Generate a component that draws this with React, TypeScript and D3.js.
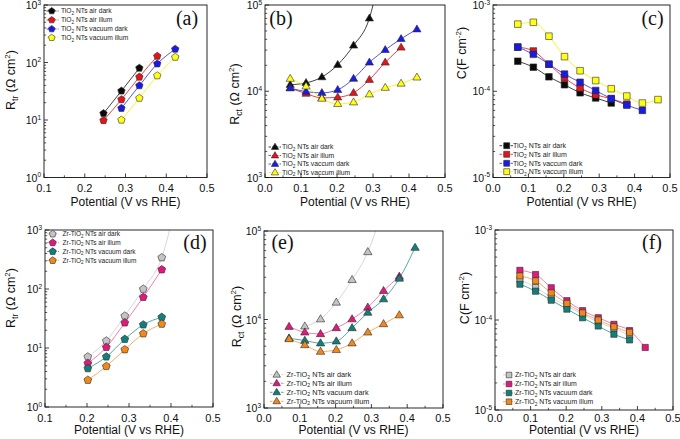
import React from 'react';
import * as d3 from 'd3';

// ---------- DATA ----------
// Panel (a): R_tr, TiO2 NTs
const aAirDarkX = [0.246, 0.29, 0.334];
const aAirDarkY = [13, 32, 80];
const aAirIllumX = [0.246, 0.29, 0.334, 0.378];
const aAirIllumY = [9.8, 22.7, 56, 129];
const aVacDarkX = [0.29, 0.334, 0.378, 0.422];
const aVacDarkY = [16, 39.6, 95, 171];
const aVacIllumX = [0.29, 0.334, 0.378, 0.422];
const aVacIllumY = [10, 24, 59, 124];

// Panel (b): R_ct, TiO2 NTs
const bAirDarkX = [0.07, 0.114, 0.158, 0.202, 0.246, 0.29, 0.334];
const bAirDarkY = [11900, 12500, 14600, 20300, 34000, 70200, 500000];
const bAirIllumX = [0.07, 0.114, 0.158, 0.202, 0.246, 0.29, 0.334, 0.378];
const bAirIllumY = [10900, 9400, 8370, 8530, 9570, 13600, 21600, 32200];
const bVacDarkX = [0.07, 0.114, 0.158, 0.202, 0.246, 0.29, 0.334, 0.378, 0.422];
const bVacDarkY = [10900, 9900, 9570, 10400, 14000, 21600, 30200, 40500, 52400];
const bVacIllumX = [0.07, 0.114, 0.158, 0.202, 0.246, 0.29, 0.334, 0.378, 0.422];
const bVacIllumY = [14000, 11400, 8230, 7140, 7460, 9230, 11000, 12300, 14500];

// Panel (c): C, TiO2 NTs
const cAirDarkX = [0.07, 0.114, 0.158, 0.202, 0.246, 0.29, 0.334];
const cAirDarkY = [2.23e-4, 1.9e-4, 1.47e-4, 1.19e-4, 9.6e-5, 8.36e-5, 7.3e-5];
const cAirIllumX = [0.07, 0.114, 0.158, 0.202, 0.246, 0.29, 0.334, 0.378];
const cAirIllumY = [3.25e-4, 2.93e-4, 2.06e-4, 1.43e-4, 1.09e-4, 9.1e-5, 8.2e-5, 7.1e-5];
const cVacDarkX = [0.07, 0.114, 0.158, 0.202, 0.246, 0.29, 0.334, 0.378, 0.422];
const cVacDarkY = [3.25e-4, 2.68e-4, 2.06e-4, 1.58e-4, 1.27e-4, 1.02e-4, 8.2e-5, 6.9e-5, 6.0e-5];
const cVacIllumX = [0.07, 0.114, 0.158, 0.202, 0.246, 0.29, 0.334, 0.378, 0.422, 0.466];
const cVacIllumY = [6.0e-4, 6.3e-4, 4.35e-4, 2.52e-4, 1.73e-4, 1.33e-4, 1.07e-4, 8.8e-5, 7.3e-5, 8.0e-5];

// Panel (d): R_tr, Zr-TiO2 NTs
const dAirDarkX = [0.202, 0.246, 0.29, 0.334, 0.378, 0.422];
const dAirDarkY = [7.1, 13.2, 35, 100, 341, 6500];
const dAirIllumX = [0.202, 0.246, 0.29, 0.334, 0.378];
const dAirIllumY = [5.5, 10.3, 26.8, 72.6, 213];
const dVacDarkX = [0.202, 0.246, 0.29, 0.334, 0.378];
const dVacDarkY = [4.5, 7.1, 14.1, 24.8, 33.3];
const dVacIllumX = [0.202, 0.246, 0.29, 0.334, 0.378];
const dVacIllumY = [2.86, 4.9, 9.4, 17.5, 25.5];

// Panel (e): R_ct, Zr-TiO2 NTs
const eAirDarkX = [0.114, 0.158, 0.202, 0.246, 0.29, 0.334];
const eAirDarkY = [8380, 10100, 15600, 28100, 58000, 190000];
const eAirIllumX = [0.07, 0.114, 0.158, 0.202, 0.246, 0.29, 0.334, 0.378];
const eAirIllumY = [8300, 7170, 6870, 8020, 10100, 13700, 21100, 30600];
const eVacDarkX = [0.07, 0.114, 0.158, 0.202, 0.246, 0.29, 0.334, 0.378, 0.422];
const eVacDarkY = [6140, 5780, 5400, 5680, 8020, 12000, 17000, 29100, 64900];
const eVacIllumX = [0.07, 0.114, 0.158, 0.202, 0.246, 0.29, 0.334, 0.378];
const eVacIllumY = [6030, 5160, 4340, 4540, 5400, 7170, 8900, 11200];

// Panel (f): C, Zr-TiO2 NTs
const fAirDarkX = [0.07, 0.114, 0.158, 0.202, 0.246, 0.29, 0.334, 0.378];
const fAirDarkY = [2.81e-4, 2.3e-4, 1.78e-4, 1.43e-4, 1.16e-4, 9.5e-5, 8.09e-5, 6.71e-5];
const fAirIllumX = [0.07, 0.114, 0.158, 0.202, 0.246, 0.29, 0.334, 0.378, 0.422];
const fAirIllumY = [3.56e-4, 3.2e-4, 2.28e-4, 1.64e-4, 1.27e-4, 1.06e-4, 8.95e-5, 7.62e-5, 4.95e-5];
const fVacDarkX = [0.07, 0.114, 0.158, 0.202, 0.246, 0.29, 0.334, 0.378];
const fVacDarkY = [2.5e-4, 2.09e-4, 1.66e-4, 1.32e-4, 1.06e-4, 8.58e-5, 6.95e-5, 6.01e-5];
const fVacIllumX = [0.07, 0.114, 0.158, 0.202, 0.246, 0.29, 0.334, 0.378];
const fVacIllumY = [3.09e-4, 2.72e-4, 2.0e-4, 1.53e-4, 1.2e-4, 1.0e-4, 8.4e-5, 7.3e-5];

// Tick values
const xTicksFrom01 = [0.1, 0.2, 0.3, 0.4, 0.5];
const xTicksFrom00 = [0.0, 0.1, 0.2, 0.3, 0.4, 0.5];
const yExpR = [0, 1, 2, 3];
const yExpRct = [3, 4, 5];
const yExpC = [-5, -4, -3];
const xTitle = 'Potential (V vs RHE)';

// Legend labels
const tioLabelsA = ['air dark', 'air illum', 'vacuum dark', 'vacuum illum'];
const tioLabelsBC = ['air dark', 'air illum', 'vaccum dark', 'vaccum illum'];
const zrLabelsD = ['air dark', 'air illum', 'vacuum dark', 'vacuum illum'];
const zrLabelsEF = [' air dark', 'air illum', 'vacuum dark', 'vacuum illum'];

// ---------- STYLE ----------
const FONT = 'Liberation Sans, Arial, Helvetica, sans-serif';
const SERIF = 'Liberation Serif, Times New Roman, serif';
const tioColors = [
  { fill: '#0a0a0a', line: '#111111' },
  { fill: '#e3141b', line: '#e3141b' },
  { fill: '#1a1ae6', line: '#2a2ae6' },
  { fill: '#ffff14', line: '#f2f200' },
];
const zrColors = [
  { fill: '#c4c4c4', line: '#cdcdcd' },
  { fill: '#e2187c', line: '#ec5fa0' },
  { fill: '#12807a', line: '#2a938d' },
  { fill: '#f0881c', line: '#f39a3a' },
];

type Shape = 'pent' | 'tri' | 'sq';

function markerPath(shape: Shape, r: number): string {
  if (shape === 'pent') {
    const pts = d3.range(5).map((k) => {
      const a = -Math.PI / 2 + (k * 2 * Math.PI) / 5;
      return [r * Math.cos(a), r * Math.sin(a)];
    });
    return 'M' + pts.map((p) => p[0].toFixed(2) + ',' + p[1].toFixed(2)).join('L') + 'Z';
  }
  if (shape === 'tri') {
    return `M0,${-r}L${(r * 0.95).toFixed(2)},${(r * 0.62).toFixed(2)}L${(-r * 0.95).toFixed(2)},${(r * 0.62).toFixed(2)}Z`;
  }
  return `M${-r},${-r}H${r}V${r}H${-r}Z`;
}

interface Series { x: number[]; y: number[]; fill: string; line: string; label: string }
interface PanelCfg {
  id: string;
  left: number; right: number; top: number; bottom: number;
  tickY: number; titleY: number;
  xDomain: [number, number];
  xTicks: number[];
  yExp: number[];
  yLabel: 'Rtr' | 'Rct' | 'C';
  yLabelX: number; yLabelY: number;
  letter: string; letterX: number; letterY: number;
  shape: Shape; r: number;
  prefix: string;
  legend: { mx: number; lx0: number; lx1: number; tx: number; ys: number[]; fs: number };
  series: Series[];
}

function mk(xs: number[][], ys: number[][], colors: { fill: string; line: string }[], labels: string[]): Series[] {
  return xs.map((x, i) => ({ x, y: ys[i], fill: colors[i].fill, line: colors[i].line, label: labels[i] }));
}

const panels: PanelCfg[] = [
  {
    id: 'a', left: 44, right: 207, top: 5, bottom: 177.5, tickY: 192, titleY: 205.5,
    xDomain: [0.1, 0.5], xTicks: xTicksFrom01, yExp: yExpR, yLabel: 'Rtr',
    yLabelX: 14.5, yLabelY: 80, letter: '(a)', letterX: 187, letterY: 24.5,
    shape: 'pent', r: 3.9, prefix: 'TiO',
    legend: { mx: 51.7, lx0: 46.5, lx1: 58.5, tx: 61, ys: [11, 20, 29, 37.7], fs: 6.7 },
    series: mk([aAirDarkX, aAirIllumX, aVacDarkX, aVacIllumX], [aAirDarkY, aAirIllumY, aVacDarkY, aVacIllumY], tioColors, tioLabelsA),
  },
  {
    id: 'b', left: 265, right: 445, top: 5, bottom: 177.5, tickY: 192, titleY: 205.5,
    xDomain: [0, 0.5], xTicks: xTicksFrom00, yExp: yExpRct, yLabel: 'Rct',
    yLabelX: 238.5, yLabelY: 94, letter: '(b)', letterX: 281, letterY: 24.5,
    shape: 'tri', r: 4.3, prefix: 'TiO',
    legend: { mx: 275, lx0: 268.5, lx1: 281, tx: 282, ys: [147, 155.5, 164, 172.5], fs: 6.8 },
    series: mk([bAirDarkX, bAirIllumX, bVacDarkX, bVacIllumX], [bAirDarkY, bAirIllumY, bVacDarkY, bVacIllumY], tioColors, tioLabelsBC),
  },
  {
    id: 'c', left: 493, right: 670, top: 5, bottom: 177.5, tickY: 192, titleY: 205.5,
    xDomain: [0, 0.5], xTicks: xTicksFrom00, yExp: yExpC, yLabel: 'C',
    yLabelX: 466, yLabelY: 53, letter: '(c)', letterX: 652.5, letterY: 25,
    shape: 'sq', r: 3.3, prefix: 'TiO',
    legend: { mx: 506.7, lx0: 499.5, lx1: 513, tx: 513, ys: [145.7, 154.3, 163.3, 171.7], fs: 7 },
    series: mk([cAirDarkX, cAirIllumX, cVacDarkX, cVacIllumX], [cAirDarkY, cAirIllumY, cVacDarkY, cVacIllumY], tioColors, tioLabelsBC),
  },
  {
    id: 'd', left: 45, right: 213, top: 230, bottom: 407, tickY: 421.5, titleY: 434,
    xDomain: [0.1, 0.5], xTicks: xTicksFrom01, yExp: yExpR, yLabel: 'Rtr',
    yLabelX: 14.5, yLabelY: 298, letter: '(d)', letterX: 195, letterY: 248.5,
    shape: 'pent', r: 4.1, prefix: 'Zr-TiO',
    legend: { mx: 52.7, lx0: 47, lx1: 59, tx: 62.5, ys: [234, 242.7, 251.5, 260.5], fs: 6.5 },
    series: mk([dAirDarkX, dAirIllumX, dVacDarkX, dVacIllumX], [dAirDarkY, dAirIllumY, dVacDarkY, dVacIllumY], zrColors, zrLabelsD),
  },
  {
    id: 'e', left: 264, right: 443, top: 231, bottom: 408, tickY: 421.5, titleY: 434,
    xDomain: [0, 0.5], xTicks: xTicksFrom00, yExp: yExpRct, yLabel: 'Rct',
    yLabelX: 241, yLabelY: 316.5, letter: '(e)', letterX: 282.5, letterY: 248.5,
    shape: 'tri', r: 4.4, prefix: 'Zr-TiO',
    legend: { mx: 276.7, lx0: 270, lx1: 285, tx: 286.5, ys: [374.7, 383.3, 392.3, 401.3], fs: 7.3 },
    series: mk([eAirDarkX, eAirIllumX, eVacDarkX, eVacIllumX], [eAirDarkY, eAirIllumY, eVacDarkY, eVacIllumY], zrColors, zrLabelsEF),
  },
  {
    id: 'f', left: 495, right: 673, top: 230, bottom: 410, tickY: 421.5, titleY: 434,
    xDomain: [0, 0.5], xTicks: xTicksFrom00, yExp: yExpC, yLabel: 'C',
    yLabelX: 469, yLabelY: 298, letter: '(f)', letterX: 652, letterY: 249,
    shape: 'sq', r: 3.1, prefix: 'Zr-TiO',
    legend: { mx: 509, lx0: 503, lx1: 515, tx: 515, ys: [375, 384, 393, 401.7], fs: 6.9 },
    series: mk([fAirDarkX, fAirIllumX, fVacDarkX, fVacIllumX], [fAirDarkY, fAirIllumY, fVacDarkY, fVacIllumY], zrColors, zrLabelsEF),
  },
];

function YLabel({ kind, x, y }: { kind: string; x: number; y: number }) {
  const common = { transform: `translate(${x},${y}) rotate(-90)`, textAnchor: 'middle' as const, fontFamily: FONT, fontSize: 12.5, fill: '#111' };
  if (kind === 'C') {
    return (
      <text {...common}>
        C(F cm<tspan dy={-5} fontSize={8}>-2</tspan><tspan dy={5}>)</tspan>
      </text>
    );
  }
  const sub = kind === 'Rtr' ? 'tr' : 'ct';
  return (
    <text {...common}>
      R<tspan dy={3} fontSize={8.5}>{sub}</tspan><tspan dy={-3}> (Ω cm</tspan><tspan dy={-5} fontSize={8}>2</tspan><tspan dy={5}>)</tspan>
    </text>
  );
}

function Panel({ p }: { p: PanelCfg }) {
  const x = d3.scaleLinear().domain(p.xDomain).range([p.left, p.right]);
  const lo = p.yExp[0];
  const hi = p.yExp[p.yExp.length - 1];
  const y = d3.scaleLog().domain([Math.pow(10, lo), Math.pow(10, hi)]).range([p.bottom, p.top]);
  const line = d3
    .line<[number, number]>()
    .x((d) => x(d[0]))
    .y((d) => y(d[1]))
    .curve(d3.curveMonotoneX);
  const xMinor = p.xTicks.slice(0, -1).map((t, i) => (t + p.xTicks[i + 1]) / 2);
  const yMinor: number[] = [];
  p.yExp.slice(0, -1).forEach((e) => {
    for (let m = 2; m <= 9; m++) yMinor.push(m * Math.pow(10, e));
  });
  const clipId = 'clip-' + p.id;
  const mpath = markerPath(p.shape, p.r);
  const lpath = markerPath(p.shape, p.r * 0.9);
  const cx = (p.left + p.right) / 2;
  return (
    <g>
      <defs>
        <clipPath id={clipId}>
          <rect x={p.left} y={p.top} width={p.right - p.left} height={p.bottom - p.top} />
        </clipPath>
      </defs>
      <g clipPath={`url(#${clipId})`}>
        {p.series.map((s, i) => (
          <path key={'l' + i} d={line(s.x.map((v, j) => [v, s.y[j]] as [number, number])) || ''} fill="none" stroke={s.line} strokeWidth={0.8} />
        ))}
        {p.series.map((s, i) => (
          <g key={'m' + i}>
            {s.x.map((v, j) => (
              <path key={j} d={mpath} transform={`translate(${x(v)},${y(s.y[j])})`} fill={s.fill} stroke="#2a2a2a" strokeWidth={0.6} />
            ))}
          </g>
        ))}
      </g>
      <rect x={p.left} y={p.top} width={p.right - p.left} height={p.bottom - p.top} fill="none" stroke="#111" strokeWidth={0.9} />
      {p.xTicks.map((t, i) => (
        <g key={'xt' + i}>
          <line x1={x(t)} x2={x(t)} y1={p.bottom} y2={p.bottom - 4} stroke="#111" strokeWidth={0.8} />
          <text x={x(t)} y={p.tickY} textAnchor="middle" fontFamily={FONT} fontSize={11} fill="#111">
            {t.toFixed(1)}
          </text>
        </g>
      ))}
      {xMinor.map((t, i) => (
        <line key={'xm' + i} x1={x(t)} x2={x(t)} y1={p.bottom} y2={p.bottom - 2.2} stroke="#111" strokeWidth={0.7} />
      ))}
      {p.yExp.map((e, i) => {
        const v = Math.pow(10, e);
        return (
          <g key={'yt' + i}>
            <line x1={p.left} x2={p.left + 4} y1={y(v)} y2={y(v)} stroke="#111" strokeWidth={0.8} />
            <text x={p.left - 3} y={y(v) + 4} textAnchor="end" fontFamily={FONT} fontSize={10.5} fill="#111">
              10<tspan dy={-4.5} fontSize={6.5}>{String(e)}</tspan>
            </text>
          </g>
        );
      })}
      {yMinor.map((v, i) => (
        <line key={'ym' + i} x1={p.left} x2={p.left + 2.2} y1={y(v)} y2={y(v)} stroke="#111" strokeWidth={0.7} />
      ))}
      <text x={cx} y={p.titleY} textAnchor="middle" fontFamily={FONT} fontSize={12} fill="#111">
        {xTitle}
      </text>
      <YLabel kind={p.yLabel} x={p.yLabelX} y={p.yLabelY} />
      <text x={p.letterX} y={p.letterY} textAnchor="middle" fontFamily={SERIF} fontSize={20} fill="#111">
        {p.letter}
      </text>
      {p.series.map((s, i) => {
        const ly = p.legend.ys[i];
        return (
          <g key={'lg' + i}>
            <line x1={p.legend.lx0} x2={p.legend.lx1} y1={ly} y2={ly} stroke={s.line} strokeWidth={0.8} strokeDasharray="2.5,1.2" />
            <path d={lpath} transform={`translate(${p.legend.mx},${ly})`} fill={s.fill} stroke="#2a2a2a" strokeWidth={0.6} />
            <text x={p.legend.tx} y={ly + p.legend.fs * 0.35} fontFamily={FONT} fontSize={p.legend.fs} fill="#222">
              {p.prefix}
              <tspan dy={1.5} fontSize={p.legend.fs * 0.7}>2</tspan>
              <tspan dy={-1.5}>{' NTs ' + s.label}</tspan>
            </text>
          </g>
        );
      })}
    </g>
  );
}

export default function App() {
  return (
    <svg
      width={680}
      height={439}
      viewBox="0 0 680 439"
      style={{ position: 'absolute', left: 0, top: 0, background: '#fff' }}
    >
      <rect x={0} y={0} width={680} height={439} fill="#fff" />
      {panels.map((p) => (
        <Panel key={p.id} p={p} />
      ))}
    </svg>
  );
}
